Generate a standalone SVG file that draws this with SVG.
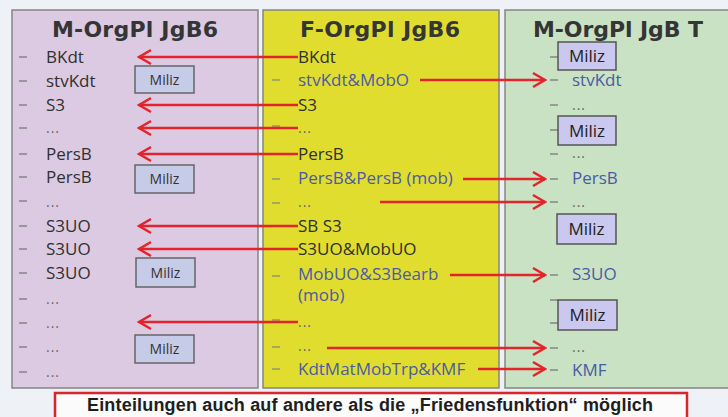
<svg xmlns="http://www.w3.org/2000/svg" width="728" height="417" viewBox="0 0 728 417">
  <defs>
    <marker id="chev" viewBox="-14 -9 16 18" refX="0" refY="0" markerWidth="16" markerHeight="18" markerUnits="userSpaceOnUse" orient="auto">
      <path d="M-12,-7 L0,0 L-12,7" fill="none" stroke="#e3242b" stroke-width="2.6" stroke-linejoin="miter"/>
    </marker>
  </defs>
  <style>
    .title { font-family: "DejaVu Sans", Verdana, sans-serif; font-weight: bold; font-size: 22px; fill: #353535; }
    .t { font-family: "Open Sans", "Noto Sans", sans-serif; font-size: 17px; fill: #303030; }
    .tb { font-family: "Open Sans", "Noto Sans", sans-serif; font-size: 17px; fill: #4a5aa6; }
    .dots { font-family: "Open Sans", "Noto Sans", sans-serif; font-size: 14px; fill: #666; letter-spacing: 1px; }
    .dash { stroke: #8a8a8a; stroke-width: 1.6; }
    .dashy { stroke: #9a9a70; stroke-width: 1.6; }
    .miliz rect { fill: #c6cce8; stroke: #666; stroke-width: 1.5; }
    .miliz text { font-family: "Open Sans", "Noto Sans", sans-serif; font-size: 14px; fill: #333; text-anchor: middle; }
    .militz2 rect { fill: #cac8ee; stroke: #555; stroke-width: 1.5; }
    .militz2 text { font-family: "Open Sans", "Noto Sans", sans-serif; font-size: 17px; fill: #222; text-anchor: middle; }
    .arrow { fill: none; stroke: #e3242b; stroke-width: 2.6; marker-end: url(#chev); }
    .banner text { font-family: "Liberation Sans", Arial, sans-serif; font-weight: bold; font-size: 18px; fill: #1e1e1e; }
  </style>

  <!-- page background -->
  <rect x="0" y="0" width="728" height="417" fill="#eef1f6"/>

  <!-- column: M-OrgPl JgB6 -->
  <g id="col-m-orgpl">
    <rect x="12" y="10" width="246" height="378" fill="#dccae3" stroke="#858585" stroke-width="1.5"/>
    <text class="title" x="52" y="37" textLength="166">M-OrgPl JgB6</text>
    <g id="m-rows">
      <line class="dash" x1="19" y1="57" x2="27" y2="57"/><text class="t" x="46" y="63">BKdt</text>
      <line class="dash" x1="19" y1="81" x2="27" y2="81"/><text class="t" x="46" y="87">stvKdt</text>
      <line class="dash" x1="19" y1="105" x2="27" y2="105"/><text class="t" x="46" y="111">S3</text>
      <line class="dash" x1="19" y1="128" x2="27" y2="128"/><text class="dots" x="46" y="133">...</text>
      <line class="dash" x1="19" y1="154" x2="27" y2="154"/><text class="t" x="46" y="160">PersB</text>
      <line class="dash" x1="19" y1="177" x2="27" y2="177"/><text class="t" x="46" y="183">PersB</text>
      <line class="dash" x1="19" y1="201" x2="27" y2="201"/><text class="dots" x="46" y="207">...</text>
      <line class="dash" x1="19" y1="226" x2="27" y2="226"/><text class="t" x="46" y="232">S3UO</text>
      <line class="dash" x1="19" y1="249" x2="27" y2="249"/><text class="t" x="46" y="255">S3UO</text>
      <line class="dash" x1="19" y1="273" x2="27" y2="273"/><text class="t" x="46" y="279">S3UO</text>
      <line class="dash" x1="19" y1="299" x2="27" y2="299"/><text class="dots" x="46" y="304">...</text>
      <line class="dash" x1="19" y1="323" x2="27" y2="323"/><text class="dots" x="46" y="328">...</text>
      <line class="dash" x1="19" y1="347" x2="27" y2="347"/><text class="dots" x="46" y="352">...</text>
      <line class="dash" x1="19" y1="372" x2="27" y2="372"/><text class="dots" x="46" y="377">...</text>
    </g>
    <g id="m-miliz-1" class="miliz"><rect x="135" y="66" width="59" height="27"/><text x="164.5" y="84.5">Miliz</text></g>
    <g id="m-miliz-2" class="miliz"><rect x="135" y="165" width="59" height="28"/><text x="164.5" y="184">Miliz</text></g>
    <g id="m-miliz-3" class="miliz"><rect x="136" y="258" width="59" height="29"/><text x="165.5" y="277.5">Miliz</text></g>
    <g id="m-miliz-4" class="miliz"><rect x="135" y="335" width="59" height="28"/><text x="164.5" y="354">Miliz</text></g>
  </g>

  <!-- column: F-OrgPl JgB6 -->
  <g id="col-f-orgpl">
    <rect x="263" y="10" width="236" height="378" fill="#e1dd2f" stroke="#858585" stroke-width="1.5"/>
    <text class="title" x="300" y="37" textLength="160">F-OrgPl JgB6</text>
    <g id="f-rows">
      <text class="t" x="298" y="63">BKdt</text>
      <line class="dashy" x1="272" y1="80" x2="280" y2="80"/><text class="tb" x="298" y="86">stvKdt&amp;MobO</text>
      <text class="t" x="298" y="111">S3</text>
      <line class="dashy" x1="272" y1="126" x2="280" y2="126"/><text class="dots" x="298" y="133">...</text>
      <text class="t" x="298" y="160">PersB</text>
      <line class="dashy" x1="272" y1="179" x2="280" y2="179"/><text class="tb" x="298" y="184">PersB&amp;PersB (mob)</text>
      <line class="dashy" x1="272" y1="203" x2="280" y2="203"/><text class="dots" x="298" y="207">...</text>
      <text class="t" x="298" y="232">SB S3</text>
      <text class="t" x="298" y="255">S3UO&amp;MobUO</text>
      <line class="dashy" x1="272" y1="276" x2="280" y2="276"/><text class="tb" x="298" y="280">MobUO&amp;S3Bearb</text>
      <text class="tb" x="298" y="301">(mob)</text>
      <line class="dashy" x1="272" y1="320" x2="280" y2="320"/><text class="dots" x="298" y="327">...</text>
      <line class="dashy" x1="272" y1="347" x2="280" y2="347"/><text class="dots" x="298" y="351">...</text>
      <line class="dashy" x1="272" y1="369" x2="280" y2="369"/><text class="tb" x="298" y="375">KdtMatMobTrp&amp;KMF</text>
    </g>
  </g>

  <!-- column: M-OrgPl JgB T -->
  <g id="col-m-orgpl-t">
    <rect x="505" y="10" width="230" height="378" fill="#c8e2c3" stroke="#858585" stroke-width="1.5"/>
    <text class="title" x="533" y="37" textLength="170">M-OrgPl JgB T</text>
    <g id="t-rows">
      <line class="dash" x1="550" y1="57" x2="558" y2="57"/>
      <line class="dash" x1="550" y1="80" x2="558" y2="80"/><text class="tb" x="572" y="86">stvKdt</text>
      <line class="dash" x1="550" y1="105" x2="558" y2="105"/><text class="dots" x="572" y="110">...</text>
      <line class="dash" x1="550" y1="130" x2="558" y2="130"/>
      <line class="dash" x1="550" y1="154" x2="558" y2="154"/><text class="dots" x="572" y="158">...</text>
      <line class="dash" x1="550" y1="179" x2="558" y2="179"/><text class="tb" x="572" y="184">PersB</text>
      <line class="dash" x1="550" y1="202" x2="558" y2="202"/><text class="dots" x="572" y="207">...</text>
      <line class="dash" x1="550" y1="275" x2="558" y2="275"/><text class="tb" x="572" y="280">S3UO</text>
      <line class="dash" x1="550" y1="300" x2="558" y2="300"/>
      <line class="dash" x1="550" y1="323" x2="558" y2="323"/>
      <line class="dash" x1="550" y1="348" x2="558" y2="348"/><text class="dots" x="572" y="352">...</text>
      <line class="dash" x1="550" y1="370" x2="558" y2="370"/><text class="tb" x="572" y="376">KMF</text>
    </g>
    <g id="t-miliz-1" class="militz2"><rect x="558" y="42" width="58" height="28"/><text x="587" y="62">Miliz</text></g>
    <g id="t-miliz-2" class="militz2"><rect x="558" y="116" width="58" height="29"/><text x="587" y="136.5">Miliz</text></g>
    <g id="t-miliz-3" class="militz2"><rect x="557" y="214" width="59" height="30"/><text x="586.5" y="235">Miliz</text></g>
    <g id="t-miliz-4" class="militz2"><rect x="558" y="300" width="59" height="30"/><text x="587.5" y="321">Miliz</text></g>
  </g>

  <!-- red assignment arrows -->
  <g id="connectors">
    <line class="arrow" x1="298" y1="57" x2="139" y2="57"/>
    <line class="arrow" x1="298" y1="105" x2="139" y2="105"/>
    <line class="arrow" x1="298" y1="128" x2="139" y2="128"/>
    <line class="arrow" x1="298" y1="154" x2="139" y2="154"/>
    <line class="arrow" x1="298" y1="226" x2="139" y2="226"/>
    <line class="arrow" x1="298" y1="249" x2="139" y2="249"/>
    <line class="arrow" x1="298" y1="322" x2="139" y2="322"/>
    <line class="arrow" x1="420" y1="80" x2="545" y2="80"/>
    <line class="arrow" x1="463" y1="179" x2="545" y2="179"/>
    <line class="arrow" x1="380" y1="202" x2="545" y2="202"/>
    <line class="arrow" x1="450" y1="275" x2="545" y2="275"/>
    <line class="arrow" x1="327" y1="348" x2="545" y2="348"/>
    <line class="arrow" x1="478" y1="369" x2="545" y2="369"/>
  </g>

  <!-- footnote banner -->
  <g id="banner" class="banner">
    <rect x="55" y="393" width="632" height="30" fill="#fbfbfb" stroke="#d9262b" stroke-width="2.5"/>
    <text x="87" y="411" textLength="566">Einteilungen auch auf andere als die „Friedensfunktion“ möglich</text>
  </g>
</svg>
